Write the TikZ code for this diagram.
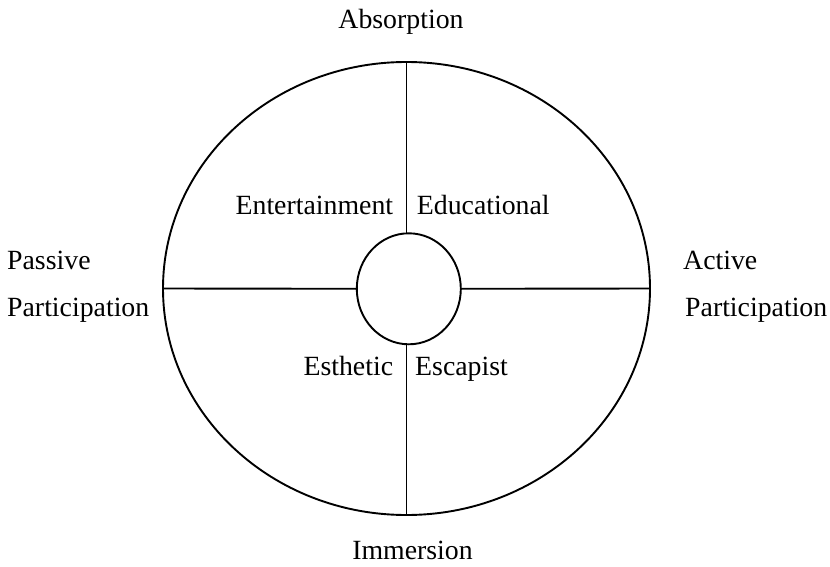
\documentclass[tikz,border=0pt]{standalone}
\usepackage{fontspec}
\setmainfont{Liberation Serif}
\usetikzlibrary{shapes.geometric}
\begin{document}
\begin{tikzpicture}[x=1pt,y=-1pt,
  ring/.style={draw, ellipse, inner sep=0pt, outer sep=0pt, line width=1.9pt},
  lbl/.style={inner sep=0pt, font=\fontsize{27.8}{33}\selectfont},
  divider/.style={line width=1.9pt}]
\useasboundingbox (0,0) rectangle (830,567);
\node[ring, minimum width=487pt, minimum height=453pt] (big) at (406.5,288.5) {};
\node[ring, minimum width=104pt, minimum height=111pt] (small) at (408.8,288.8) {};
\draw[divider] (big.north) -- (big.north |- small.north);
\draw[divider] (big.south) -- (big.south |- small.south);
\draw[divider] (big.west) -- (small.west);
\draw[divider] (big.east) -- (small.east);
\node[lbl, anchor=base] (abs) at (401,28.3) {Absorption};
\node[lbl, anchor=base] (imm) at (412.5,559) {Immersion};
\node[lbl, anchor=base west] (pas) at (7,269.3) {Passive};
\node[lbl, anchor=base west] (ppart) at (7,316.7) {Participation};
\node[lbl, anchor=base west] (act) at (683,269.3) {Active};
\node[lbl, anchor=base west] (apart) at (685,316.7) {Participation};
\node[lbl, anchor=base east] (ent) at (393.3,214) {Entertainment};
\node[lbl, anchor=base west] (edu) at (416.7,214) {Educational};
\node[lbl, anchor=base east] (est) at (393.3,375) {Esthetic};
\node[lbl, anchor=base west] (esc) at (415,375) {Escapist};
\end{tikzpicture}
\end{document}
